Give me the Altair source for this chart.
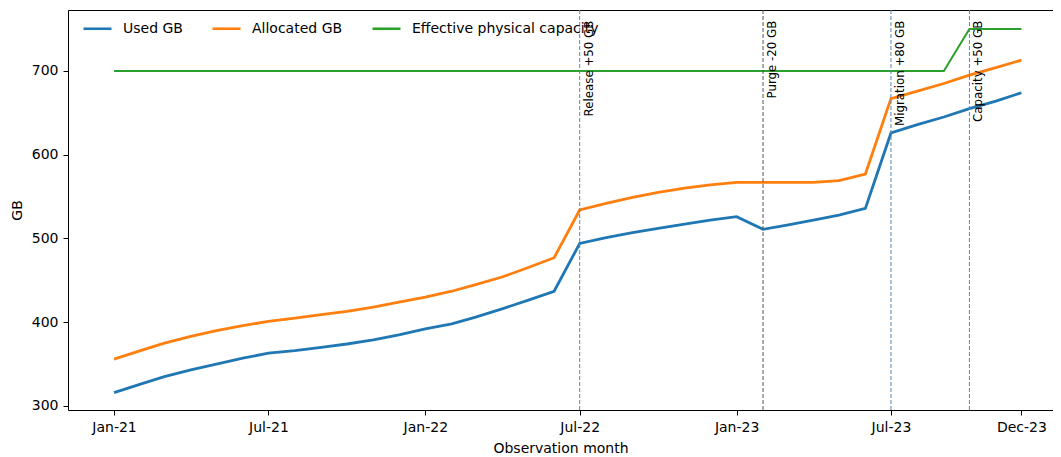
import altair as alt
import pandas as pd

# ---- data -------------------------------------------------------------
months = list(pd.date_range("2021-01-01", "2023-12-01", freq="MS").strftime("%Y-%m-%d"))

used_gb = [316, 326, 335, 343, 350, 357, 363, 366, 370, 374, 379, 385,
           392, 398, 406, 416, 426, 437, 494, 501, 507, 512, 517, 522,
           526, 511, 516, 522, 528, 536, 626, 636, 645, 655, 664, 674]

allocated_gb = [356, 366, 375, 383, 390, 396, 401, 405, 409, 413, 418, 424,
                430, 437, 445, 454, 465, 477, 534, 542, 549, 555, 560, 564,
                567, 567, 567, 567, 569, 577, 667, 676, 685, 695, 704, 713]

capacity_gb = [700, 700, 700, 700, 700, 700, 700, 700, 700, 700, 700, 700,
               700, 700, 700, 700, 700, 700, 700, 700, 700, 700, 700, 700,
               700, 700, 700, 700, 700, 700, 700, 700, 700, 750, 750, 750]

series_names = ["Used GB", "Allocated GB", "Effective physical capacity"]
series_colors = ["#1f77b4", "#ff7f0e", "#2ca02c"]

event_dates = ["2022-07-01", "2023-02-01", "2023-07-01", "2023-10-01"]
event_labels = ["Release +50 GB", "Purge -20 GB", "Migration +80 GB", "Capacity +50 GB"]

y_ticks = [300, 400, 500, 600, 700]

# ---- tables -----------------------------------------------------------
wide = pd.DataFrame({
    "month": months,
    series_names[0]: used_gb,
    series_names[1]: allocated_gb,
    series_names[2]: capacity_gb,
})
long = wide.melt("month", var_name="series", value_name="gb")
events = pd.DataFrame({"date": event_dates, "label": event_labels})

FONT = "DejaVu Sans"

x_scale = alt.Scale(
    type="utc",
    domain=[alt.DateTime(year=2020, month=11, date=8, utc=True),
            alt.DateTime(year=2024, month=1, date=7, utc=True)],
)
y_scale = alt.Scale(domain=[295.2, 772.8], nice=False, zero=False)

x_tick_values = [
    alt.DateTime(year=2021, month=1, date=1, utc=True),
    alt.DateTime(year=2021, month=7, date=1, utc=True),
    alt.DateTime(year=2022, month=1, date=1, utc=True),
    alt.DateTime(year=2022, month=7, date=1, utc=True),
    alt.DateTime(year=2023, month=1, date=1, utc=True),
    alt.DateTime(year=2023, month=7, date=1, utc=True),
    alt.DateTime(year=2023, month=12, date=1, utc=True),
]

lines = alt.Chart(long).mark_line().encode(
    x=alt.X("month:T", scale=x_scale,
            axis=alt.Axis(values=x_tick_values,
                          labelExpr="utcFormat(datum.value, '%b-%y')",
                          title="Observation month", labelPadding=5, titlePadding=7)),
    y=alt.Y("gb:Q", scale=y_scale,
            axis=alt.Axis(values=y_ticks, title="GB", labelPadding=5, titlePadding=7)),
    color=alt.Color("series:N",
                    scale=alt.Scale(domain=series_names, range=series_colors),
                    legend=alt.Legend(title=None, orient="none", direction="horizontal",
                                      legendX=14, legendY=3, symbolType="stroke",
                                      symbolSize=784, symbolStrokeWidth=2.6,
                                      labelOffset=10, columnPadding=24, padding=0,
                                      labelLimit=0,
                                      labelFontSize=14, labelFont=FONT, labelColor="black")),
    strokeWidth=alt.condition(alt.datum.series == "Effective physical capacity",
                              alt.value(2), alt.value(2.8)),
)

rules = alt.Chart(events).mark_rule(strokeDash=[4, 2], strokeWidth=1).encode(
    x=alt.X("date:T", scale=x_scale,
            axis=alt.Axis(orient="top", labels=False, ticks=False, title=None,
                          domain=True, domainColor="black")),
    stroke=alt.condition(alt.datum.label == "Purge -20 GB",
                         alt.value("#555555"), alt.value("#5b86ad")),
)

texts = alt.Chart(events).mark_text(
    angle=270, align="right", baseline="top", dy=4, fontSize=11.8, font=FONT, color="black"
).encode(
    x=alt.X("date:T", scale=x_scale, axis=None),
    y=alt.YDatum(760, scale=y_scale, axis=None),
    text="label:N",
)

chart = (
    alt.layer(lines, rules, texts)
    .resolve_axis(x="independent", y="independent")
    .properties(width=985, height=400, autosize="none",
                padding={"left": 60, "top": 2, "right": 0, "bottom": 46})
    .configure(font=FONT)
    .configure_view(stroke=None)
    .configure_axis(grid=False, domainColor="black", domainWidth=1, tickColor="black",
                    tickSize=5, labelFont=FONT, labelFontSize=14, labelColor="black",
                    titleFont=FONT, titleFontSize=14, titleFontWeight="normal",
                    titleColor="black")
)

chart.save("out.html", embed_options={"renderer": "svg", "actions": False})
